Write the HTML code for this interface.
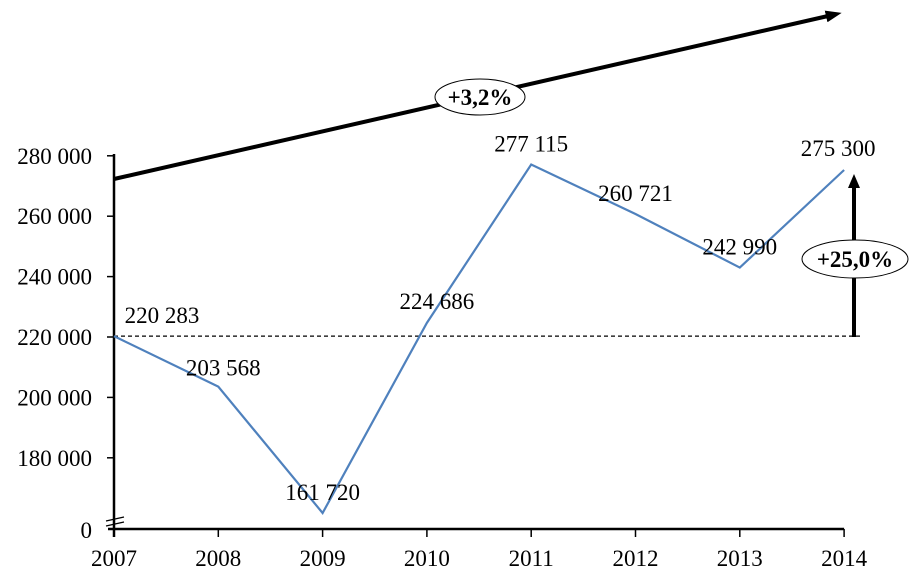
<!DOCTYPE html>
<html><head><meta charset="utf-8"><style>
body{margin:0;background:#fff}
svg text{font-family:"Liberation Serif",serif;font-size:23px;fill:#000}
</style></head><body>
<svg width="909" height="579">
<defs><marker id="ah" markerWidth="16" markerHeight="12" refX="2" refY="6" orient="auto" markerUnits="userSpaceOnUse"><path d="M0,0 L16,6 L0,12 Z" fill="#000"/></marker>
<marker id="ah2" markerWidth="14" markerHeight="12" refX="2" refY="6" orient="auto" markerUnits="userSpaceOnUse"><path d="M0,0 L14,6 L0,12 Z" fill="#000"/></marker></defs>
<g id="axes"></g>
<g id="plot"></g>
</svg>
<script>
const years=["2007","2008","2009","2010","2011","2012","2013","2014"];
const values=[220283,203568,161720,224686,277115,260721,242990,275300];
const valueLabels=["220 283","203 568","161 720","224 686","277 115","260 721","242 990","275 300"];
const yTicks=[180000,200000,220000,240000,260000,280000];
const yTickLabels=["180 000","200 000","220 000","240 000","260 000","280 000"];
const labelOffsets=[[48,-13],[5,-11],[0,-13],[10,-14],[0,-13],[0,-13],[0,-13],[-6,-14]];
const NS="http://www.w3.org/2000/svg";
const ax=document.getElementById('axes'),pl=document.getElementById('plot');
const x=i=>114+i*104.3;
const y=v=>v<150000?529:337-(v-220000)*60.4/20000;
function el(t,a,p){const e=document.createElementNS(NS,t);for(const k in a)e.setAttribute(k,a[k]);p.appendChild(e);return e;}
let e;
e=el('line',{x1:114,y1:154,x2:114,y2:537,stroke:'#000','stroke-width':2.5},ax);


e=el('line',{x1:108,y1:529,x2:x(7),y2:529,stroke:'#000','stroke-width':2.5},ax);


yTicks.forEach((v,i)=>{
 el('line',{x1:107,y1:y(v),x2:114,y2:y(v),stroke:'#000','stroke-width':1.5},ax);
 e=el('text',{x:92,y:y(v)+8,'text-anchor':'end'},ax);e.textContent=yTickLabels[i];
 
 
});
e=el('text',{x:92,y:538,'text-anchor':'end'},ax);e.textContent="0";


el('line',{x1:106,y1:521,x2:124,y2:517,stroke:'#000','stroke-width':1.2},ax);
el('line',{x1:106,y1:526,x2:124,y2:522,stroke:'#000','stroke-width':1.2},ax);
years.forEach((yr,i)=>{
 el('line',{x1:x(i),y1:529,x2:x(i),y2:537,stroke:'#000','stroke-width':1.5},ax);
 e=el('text',{x:x(i),y:566,'text-anchor':'middle'},ax);e.textContent=yr;
 
 
});
e=el('line',{x1:114,y1:y(values[0]),x2:862,y2:y(values[0]),stroke:'#000','stroke-width':1.3,'stroke-dasharray':'4,3'},pl);


e=el('polyline',{points:values.map((v,i)=>x(i)+','+y(v)).join(' '),fill:'none',stroke:'#4f81bd','stroke-width':2.2},pl);


values.forEach((v,i)=>{
 e=el('text',{x:x(i)+labelOffsets[i][0],y:y(v)+labelOffsets[i][1],'text-anchor':'middle'},pl);
 e.textContent=valueLabels[i];
 
 
});
e=el('line',{x1:114,y1:179,x2:828,y2:16,stroke:'#000','stroke-width':4,'marker-end':'url(#ah)'},pl);


e=el('ellipse',{cx:480,cy:97,rx:45,ry:18,fill:'#fff',stroke:'#000','stroke-width':1},pl);


e=el('text',{x:480,y:105,'text-anchor':'middle','font-weight':'bold'},pl);e.textContent="+3,2%";


e=el('line',{x1:854,y1:337,x2:854,y2:186,stroke:'#000','stroke-width':4,'marker-end':'url(#ah2)'},pl);


e=el('ellipse',{cx:855,cy:259,rx:53,ry:19,fill:'#fff',stroke:'#000','stroke-width':1},pl);


e=el('text',{x:855,y:267,'text-anchor':'middle','font-weight':'bold'},pl);e.textContent="+25,0%";


</script>
</body></html>
